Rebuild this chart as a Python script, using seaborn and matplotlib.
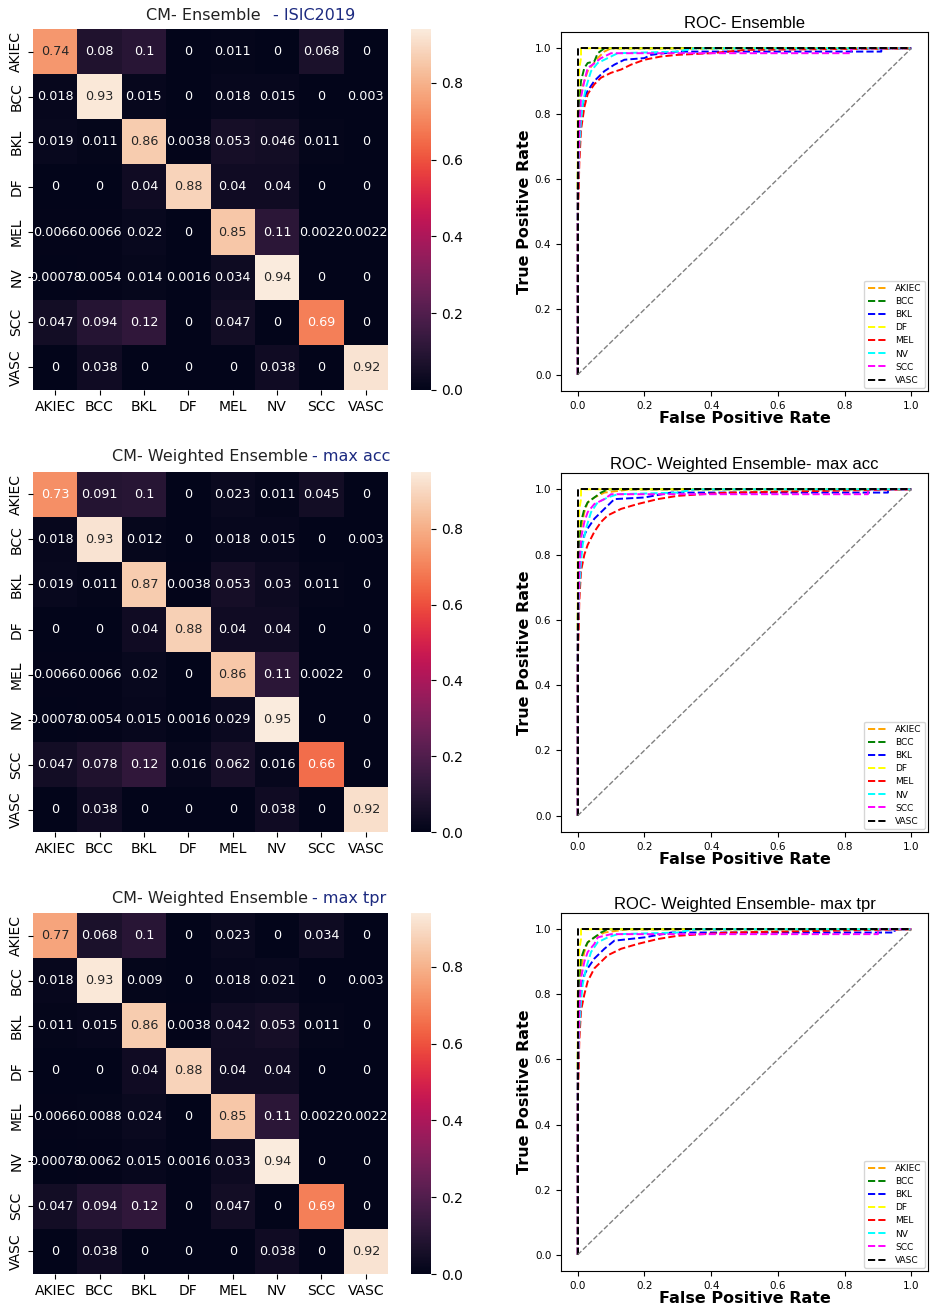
import numpy as np
import pandas as pd
import matplotlib
matplotlib.use('Agg')
import matplotlib.pyplot as plt
import seaborn as sns

# class names
classes = ['AKIEC', 'BCC', 'BKL', 'DF', 'MEL', 'NV', 'SCC', 'VASC']
roc_colors = ['orange', 'green', 'blue', 'yellow', 'red', 'cyan', 'magenta', 'black']

# confusion matrices (normalised)
cm_ensemble = [
    [0.74, 0.08, 0.1, 0, 0.011, 0, 0.068, 0],
    [0.018, 0.93, 0.015, 0, 0.018, 0.015, 0, 0.003],
    [0.019, 0.011, 0.86, 0.0038, 0.053, 0.046, 0.011, 0],
    [0, 0, 0.04, 0.88, 0.04, 0.04, 0, 0],
    [0.0066, 0.0066, 0.022, 0, 0.85, 0.11, 0.0022, 0.0022],
    [0.00078, 0.0054, 0.014, 0.0016, 0.034, 0.94, 0, 0],
    [0.047, 0.094, 0.12, 0, 0.047, 0, 0.69, 0],
    [0, 0.038, 0, 0, 0, 0.038, 0, 0.92],
]
cm_max_acc = [
    [0.73, 0.091, 0.1, 0, 0.023, 0.011, 0.045, 0],
    [0.018, 0.93, 0.012, 0, 0.018, 0.015, 0, 0.003],
    [0.019, 0.011, 0.87, 0.0038, 0.053, 0.03, 0.011, 0],
    [0, 0, 0.04, 0.88, 0.04, 0.04, 0, 0],
    [0.0066, 0.0066, 0.02, 0, 0.86, 0.11, 0.0022, 0],
    [0.00078, 0.0054, 0.015, 0.0016, 0.029, 0.95, 0, 0],
    [0.047, 0.078, 0.12, 0.016, 0.062, 0.016, 0.66, 0],
    [0, 0.038, 0, 0, 0, 0.038, 0, 0.92],
]
cm_max_tpr = [
    [0.77, 0.068, 0.1, 0, 0.023, 0, 0.034, 0],
    [0.018, 0.93, 0.009, 0, 0.018, 0.021, 0, 0.003],
    [0.011, 0.015, 0.86, 0.0038, 0.042, 0.053, 0.011, 0],
    [0, 0, 0.04, 0.88, 0.04, 0.04, 0, 0],
    [0.0066, 0.0088, 0.024, 0, 0.85, 0.11, 0.0022, 0.0022],
    [0.00078, 0.0062, 0.015, 0.0016, 0.033, 0.94, 0, 0],
    [0.047, 0.094, 0.12, 0, 0.047, 0, 0.69, 0],
    [0, 0.038, 0, 0, 0, 0.038, 0, 0.92],
]

# ROC curves: (fpr, tpr) per class
roc_ensemble = {
    'AKIEC': ([0, 0, 0.005, 0.01, 0.02, 0.03, 0.045, 0.06, 0.08, 0.1, 1.0],
              [0, 0.55, 0.8, 0.87, 0.9, 0.93, 0.95, 0.97, 0.99, 1.0, 1.0]),
    'BCC': ([0, 0, 0.005, 0.01, 0.02, 0.03, 0.05, 0.06, 0.08, 1.0],
            [0, 0.6, 0.85, 0.9, 0.94, 0.955, 0.96, 0.985, 1.0, 1.0]),
    'BKL': ([0, 0, 0.005, 0.01, 0.02, 0.03, 0.05, 0.08, 0.11, 0.14, 0.2, 0.22, 0.3, 0.91, 0.91, 1.0],
            [0, 0.5, 0.7, 0.8, 0.85, 0.87, 0.9, 0.93, 0.95, 0.965, 0.97, 0.98, 0.99, 0.99, 1.0, 1.0]),
    'DF': ([0, 0, 0.005, 0.01, 0.01, 1.0],
           [0, 0.8, 0.94, 0.97, 1.0, 1.0]),
    'MEL': ([0, 0, 0.005, 0.01, 0.02, 0.03, 0.05, 0.07, 0.1, 0.13, 0.16, 0.2, 0.25, 0.3, 0.4, 0.5, 1.0],
            [0, 0.45, 0.65, 0.75, 0.82, 0.86, 0.89, 0.91, 0.925, 0.935, 0.95, 0.965, 0.975, 0.98, 0.985, 0.995, 1.0]),
    'NV': ([0, 0, 0.005, 0.01, 0.015, 0.025, 0.04, 0.06, 0.09, 0.12, 0.3, 0.35, 1.0],
           [0, 0.55, 0.7, 0.78, 0.83, 0.88, 0.93, 0.955, 0.97, 0.985, 0.99, 1.0, 1.0]),
    'SCC': ([0, 0, 0.005, 0.01, 0.02, 0.03, 0.045, 0.07, 0.1, 0.82, 0.82, 1.0],
            [0, 0.55, 0.75, 0.85, 0.9, 0.94, 0.95, 0.97, 0.985, 0.985, 1.0, 1.0]),
    'VASC': ([0, 0, 1.0], [0, 1.0, 1.0]),
}
roc_max_acc = {
    'AKIEC': ([0, 0, 0.005, 0.01, 0.02, 0.03, 0.05, 0.08, 0.16, 1.0],
              [0, 0.5, 0.78, 0.88, 0.93, 0.96, 0.975, 0.99, 1.0, 1.0]),
    'BCC': ([0, 0, 0.005, 0.01, 0.02, 0.03, 0.05, 0.07, 0.09, 1.0],
            [0, 0.6, 0.85, 0.9, 0.94, 0.96, 0.975, 0.99, 1.0, 1.0]),
    'BKL': ([0, 0, 0.005, 0.01, 0.02, 0.03, 0.05, 0.08, 0.11, 0.2, 0.28, 0.93, 0.93, 1.0],
            [0, 0.5, 0.72, 0.82, 0.86, 0.88, 0.91, 0.94, 0.97, 0.975, 0.99, 0.99, 1.0, 1.0]),
    'DF': ([0, 0, 0.005, 0.01, 0.01, 1.0],
           [0, 0.8, 0.94, 0.97, 1.0, 1.0]),
    'MEL': ([0, 0, 0.005, 0.01, 0.02, 0.03, 0.05, 0.07, 0.09, 0.13, 0.18, 0.24, 0.3, 0.45, 1.0],
            [0, 0.45, 0.66, 0.75, 0.8, 0.83, 0.87, 0.9, 0.92, 0.94, 0.955, 0.97, 0.98, 0.99, 1.0]),
    'NV': ([0, 0, 0.005, 0.01, 0.015, 0.025, 0.04, 0.06, 0.09, 0.12, 0.3, 0.35, 1.0],
           [0, 0.55, 0.7, 0.78, 0.83, 0.88, 0.93, 0.96, 0.975, 0.985, 0.99, 1.0, 1.0]),
    'SCC': ([0, 0, 0.005, 0.01, 0.02, 0.03, 0.05, 0.08, 0.1, 0.87, 0.87, 1.0],
            [0, 0.55, 0.75, 0.85, 0.9, 0.93, 0.955, 0.97, 0.985, 0.985, 1.0, 1.0]),
    'VASC': ([0, 0, 1.0], [0, 1.0, 1.0]),
}
roc_max_tpr = {
    'AKIEC': ([0, 0, 0.005, 0.01, 0.02, 0.03, 0.05, 0.08, 0.15, 1.0],
              [0, 0.5, 0.8, 0.88, 0.93, 0.96, 0.975, 0.99, 1.0, 1.0]),
    'BCC': ([0, 0, 0.005, 0.01, 0.02, 0.03, 0.05, 0.07, 0.09, 1.0],
            [0, 0.6, 0.86, 0.91, 0.94, 0.96, 0.975, 0.99, 1.0, 1.0]),
    'BKL': ([0, 0, 0.005, 0.01, 0.02, 0.03, 0.05, 0.08, 0.11, 0.2, 0.28, 0.95, 0.95, 1.0],
            [0, 0.5, 0.72, 0.82, 0.86, 0.88, 0.91, 0.94, 0.965, 0.975, 0.99, 0.99, 1.0, 1.0]),
    'DF': ([0, 0, 0.005, 0.01, 0.01, 1.0],
           [0, 0.8, 0.94, 0.97, 1.0, 1.0]),
    'MEL': ([0, 0, 0.005, 0.01, 0.02, 0.03, 0.05, 0.07, 0.09, 0.13, 0.18, 0.24, 0.3, 0.45, 1.0],
            [0, 0.45, 0.66, 0.75, 0.8, 0.84, 0.88, 0.9, 0.92, 0.94, 0.955, 0.97, 0.98, 0.99, 1.0]),
    'NV': ([0, 0, 0.005, 0.01, 0.015, 0.025, 0.04, 0.06, 0.09, 0.12, 0.3, 0.35, 1.0],
           [0, 0.55, 0.7, 0.78, 0.83, 0.88, 0.93, 0.96, 0.975, 0.985, 0.99, 1.0, 1.0]),
    'SCC': ([0, 0, 0.005, 0.01, 0.02, 0.03, 0.05, 0.06, 0.1, 0.9, 0.9, 1.0],
            [0, 0.55, 0.75, 0.85, 0.9, 0.93, 0.955, 0.975, 0.985, 0.985, 1.0, 1.0]),
    'VASC': ([0, 0, 1.0], [0, 1.0, 1.0]),
}

cm_titles = [('CM- Ensemble ', '- ISIC2019'),
             ('CM- Weighted Ensemble', '- max acc'),
             ('CM- Weighted Ensemble', '- max tpr')]
roc_titles = ['ROC- Ensemble', 'ROC- Weighted Ensemble- max acc', 'ROC- Weighted Ensemble- max tpr']
cms = [cm_ensemble, cm_max_acc, cm_max_tpr]
rocs = [roc_ensemble, roc_max_acc, roc_max_tpr]

W, H = 930, 1304
fig = plt.figure(figsize=(W / 100, H / 100), dpi=100)


def box(l, t, r, b):
    return [l / W, 1 - b / H, (r - l) / W, (b - t) / H]


hm_tops = [29, 472, 913]
hm_bots = [390, 832, 1274]
roc_tops = [32, 473, 913]
roc_bots = [391, 832, 1271]
title_y = [15, 457, 899]
title_split = [(266, 273), (308, 312), (308, 312)]

for i in range(3):
    # confusion matrix heatmap
    ax = fig.add_axes(box(33, hm_tops[i], 388, hm_bots[i]))
    cax = fig.add_axes(box(411, hm_tops[i], 431, hm_bots[i]))
    df = pd.DataFrame(cms[i], index=classes, columns=classes)
    sns.heatmap(df, annot=True, fmt='.2g', ax=ax, cbar_ax=cax,
                annot_kws={'size': 9.2})
    ax.set_xticklabels(classes, fontsize=10, rotation=0)
    ax.set_yticklabels(classes, fontsize=10, rotation=90, va='center')
    cax.tick_params(labelsize=10)
    y = 1 - title_y[i] / H
    fig.text(title_split[i][0] / W, y, cm_titles[i][0], ha='right', va='center',
             fontsize=11.5, color='#222222')
    fig.text(title_split[i][1] / W, y, cm_titles[i][1], ha='left', va='center',
             fontsize=11.5, color='#1c2a80')

    # ROC curves
    rax = fig.add_axes(box(561, roc_tops[i], 928, roc_bots[i]))
    for cls, col in zip(classes, roc_colors):
        fpr, tpr = rocs[i][cls]
        sns.lineplot(x=fpr, y=tpr, ax=rax, color=col, linestyle='--', lw=1.4,
                     sort=False, estimator=None, label=cls)
    sns.lineplot(x=[0, 1], y=[0, 1], ax=rax, color='gray', linestyle='--', lw=1.0,
                 sort=False, estimator=None)
    rax.set_xlim(-0.05, 1.05)
    rax.set_ylim(-0.05, 1.05)
    rax.set_xticks(np.arange(0, 1.01, 0.2))
    rax.set_yticks(np.arange(0, 1.01, 0.2))
    rax.tick_params(labelsize=7.5)
    rax.set_xlabel('False Positive Rate', fontsize=11.5, fontweight='bold', labelpad=0.5)
    rax.set_ylabel('True Positive Rate', fontsize=11.5, fontweight='bold', labelpad=2)
    rax.set_title(roc_titles[i], fontsize=12, family='Liberation Sans', pad=3)
    rax.legend(loc='lower right', fontsize=6.5, handlelength=2.2,
               borderaxespad=0.3, labelspacing=0.45)

fig.savefig('out.png', dpi=100)
